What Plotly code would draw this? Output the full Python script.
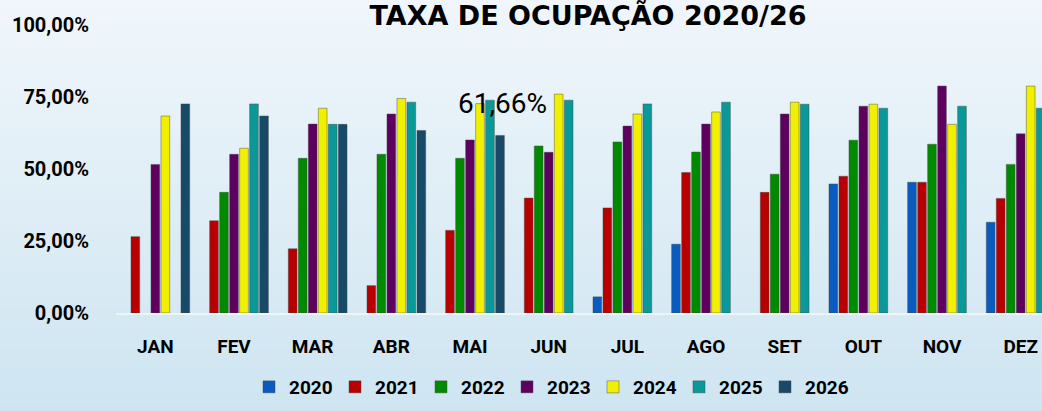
import plotly.graph_objects as go

# Monthly occupancy rate (%) per year
months = ["JAN", "FEV", "MAR", "ABR", "MAI", "JUN", "JUL", "AGO", "SET", "OUT", "NOV", "DEZ"]
years = ["2020", "2021", "2022", "2023", "2024", "2025", "2026"]

occ_2020 = [None, None, None, None, None, None, 5.6, 23.9, None, 44.8, 45.4, 31.5]
occ_2021 = [26.5, 32.0, 22.3, 9.5, 28.7, 39.9, 36.5, 48.8, 41.9, 47.5, 45.4, 39.8]
occ_2022 = [None, 41.9, 53.7, 55.1, 53.7, 58.0, 59.4, 55.9, 48.2, 60.0, 58.6, 51.6]
occ_2023 = [51.6, 55.1, 65.6, 69.1, 60.1, 55.8, 64.9, 65.6, 69.1, 71.8, 78.8, 62.2]
occ_2024 = [68.4, 57.2, 71.1, 74.5, 72.7, 76.0, 69.1, 69.8, 73.2, 72.5, 65.5, 78.8]
occ_2025 = [None, 72.6, 65.5, 73.2, 73.9, 73.9, 72.6, 73.2, 72.5, 71.1, 71.8, 71.1]
occ_2026 = [72.6, 68.4, 65.5, 63.4, 61.66, None, None, None, None, None, None, None]

y_tickvals = [0, 25, 50, 75, 100]
y_ticktext = ["0,00%", "25,00%", "50,00%", "75,00%", "100,00%"]

series = [occ_2020, occ_2021, occ_2022, occ_2023, occ_2024, occ_2025, occ_2026]
colors = ["#0a5bc0", "#b80000", "#008a00", "#5e005e", "#f0f000", "#0a9898", "#164a68"]

FONT = "Roboto, sans-serif"

W, H = 1042, 411
PLOT_L, PLOT_T, PLOT_B = 116, 25, 313

fig = go.Figure()
for name, vals, col in zip(years, series, colors):
    fig.add_trace(go.Bar(
        x=months, y=vals, name=name,
        marker=dict(color=col, line=dict(color="rgba(70,70,70,0.45)", width=1)),
    ))

# soft vertical background gradient, drawn as thin horizontal strips
top_rgb = (240, 246, 251)
bot_rgb = (206, 229, 241)
n_strips = 60
plot_h = PLOT_B - PLOT_T
plot_w = W - PLOT_L
for i in range(n_strips):
    t = i / (n_strips - 1)
    r = round(top_rgb[0] + (bot_rgb[0] - top_rgb[0]) * t)
    g = round(top_rgb[1] + (bot_rgb[1] - top_rgb[1]) * t)
    b = round(top_rgb[2] + (bot_rgb[2] - top_rgb[2]) * t)
    py0 = H * i / n_strips
    py1 = H * (i + 1) / n_strips + 1
    fig.add_shape(
        type="rect", xref="paper", yref="paper", layer="below",
        x0=(0 - PLOT_L) / plot_w - 0.01, x1=1.01,
        y0=(PLOT_B - py1) / plot_h, y1=(PLOT_B - py0) / plot_h,
        line=dict(width=0), fillcolor=f"rgb({r},{g},{b})",
    )

# value label on the May 2026 bar
may_val = occ_2026[months.index("MAI")]
fig.add_annotation(
    x="MAI", y=may_val, xref="x", yref="y",
    text=f"{may_val:.2f}".replace(".", ",") + "%",
    showarrow=False, xshift=32, yshift=32,
    font=dict(family=FONT, size=28, color="#000000"),
)

fig.update_layout(
    width=W, height=H,
    margin=dict(l=PLOT_L, r=0, t=PLOT_T, b=H - PLOT_B, autoexpand=False),
    paper_bgcolor="rgb(220,236,245)",
    plot_bgcolor="rgba(0,0,0,0)",
    barmode="group", bargap=0.11, bargroupgap=0.13,
    title=dict(
        text="TAXA DE OCUPAÇÃO 2020/26",
        xref="container", yref="container", x=588 / W, xanchor="center",
        y=1 - 16 / H, yanchor="middle",
        font=dict(family="DejaVu Sans", size=27, color="#000000", weight="bold"),
    ),
    legend=dict(
        orientation="h", xref="container", yref="container",
        x=550 / W, xanchor="center", y=1 - 387 / H, yanchor="middle",
        font=dict(family=FONT, size=19, color="#000000", weight="bold"),
        itemwidth=30, entrywidth=41, bgcolor="rgba(0,0,0,0)",
    ),
    xaxis=dict(
        range=[-0.5, -0.5 + plot_w / (944 / 12)],
        showline=True, linecolor="#eef4f8", linewidth=2,
        ticks="outside", ticklen=15, tickcolor="rgba(0,0,0,0)",
        tickfont=dict(family=FONT, size=19, color="#000000", weight="bold"),
        showgrid=False, zeroline=False, automargin=False,
    ),
    yaxis=dict(
        range=[0, 100], tickvals=y_tickvals, ticktext=y_ticktext,
        ticks="outside", ticklen=22, tickcolor="rgba(0,0,0,0)",
        tickfont=dict(family=FONT, size=20, color="#000000", weight="bold"),
        showgrid=False, zeroline=False, showline=False, automargin=False,
    ),
)

fig.write_html("out.html")
